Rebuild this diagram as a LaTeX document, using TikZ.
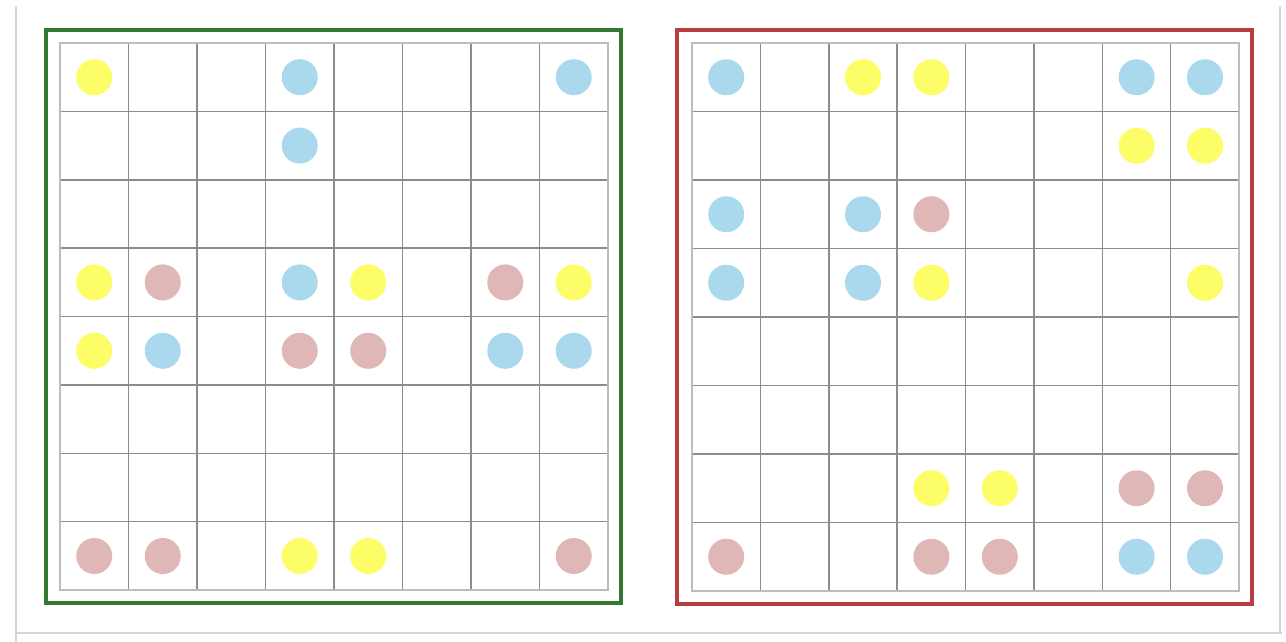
\documentclass[tikz,border=0pt]{standalone}
\definecolor{cy}{RGB}{253,253,104}
\definecolor{cb}{RGB}{170,216,236}
\definecolor{cp}{RGB}{224,183,183}
\definecolor{gframe}{RGB}{52,120,52}
\definecolor{rframe}{RGB}{182,62,62}
\definecolor{gridin}{RGB}{140,140,140}
\definecolor{gridout}{RGB}{188,188,188}
\definecolor{edgec}{RGB}{212,212,212}
\begin{document}
\begin{tikzpicture}[x=1pt,y=-1pt,
  dot/.style={circle,inner sep=0pt,minimum size=36pt,draw=none},
  gridinner/.style={draw=gridin,line width=1.5pt},
  gridouter/.style={draw=gridout,line width=2.2pt},
  panelframe/.style={line width=4.5pt},
  pageedge/.style={draw=edgec,line width=2pt}]
\useasboundingbox (0,0) rectangle (1286,642);
% page edges
\draw[pageedge] (16,6) -- (16,642);
\draw[pageedge] (1280,6) -- (1280,633);
\draw[pageedge] (16,633) -- (1282,633);
% panel frames
\draw[panelframe,draw=gframe] (46,30) rectangle (621,603);
\draw[panelframe,draw=rframe] (677,30) rectangle (1252,604);
% grids
\foreach \x/\y/\w/\h in {60/43/548/547, 692/43/547/548}{
  \foreach \i in {1,...,7}{
    \draw[gridinner] ({\x+\i*\w/8},\y) -- ({\x+\i*\w/8},{\y+\h});
    \draw[gridinner] (\x,{\y+\i*\h/8}) -- ({\x+\w},{\y+\i*\h/8});
  }
  \draw[gridouter] (\x,\y) rectangle ({\x+\w},{\y+\h});
}
% left board dots
\foreach \r/\c/\col in {1/1/cy,1/4/cb,1/8/cb,2/4/cb,
  4/1/cy,4/2/cp,4/4/cb,4/5/cy,4/7/cp,4/8/cy,
  5/1/cy,5/2/cb,5/4/cp,5/5/cp,5/7/cb,5/8/cb,
  8/1/cp,8/2/cp,8/4/cy,8/5/cy,8/8/cp}{
  \node[dot,fill=\col] (L-\r-\c) at ({60+(\c-0.5)*68.5},{43+(\r-0.5)*68.4}) {};
}
% right board dots
\foreach \r/\c/\col in {1/1/cb,1/3/cy,1/4/cy,1/7/cb,1/8/cb,
  2/7/cy,2/8/cy,
  3/1/cb,3/3/cb,3/4/cp,
  4/1/cb,4/3/cb,4/4/cy,4/8/cy,
  7/4/cy,7/5/cy,7/7/cp,7/8/cp,
  8/1/cp,8/4/cp,8/5/cp,8/7/cb,8/8/cb}{
  \node[dot,fill=\col] (R-\r-\c) at ({692+(\c-0.5)*68.4},{43+(\r-0.5)*68.5}) {};
}
\end{tikzpicture}
\end{document}
